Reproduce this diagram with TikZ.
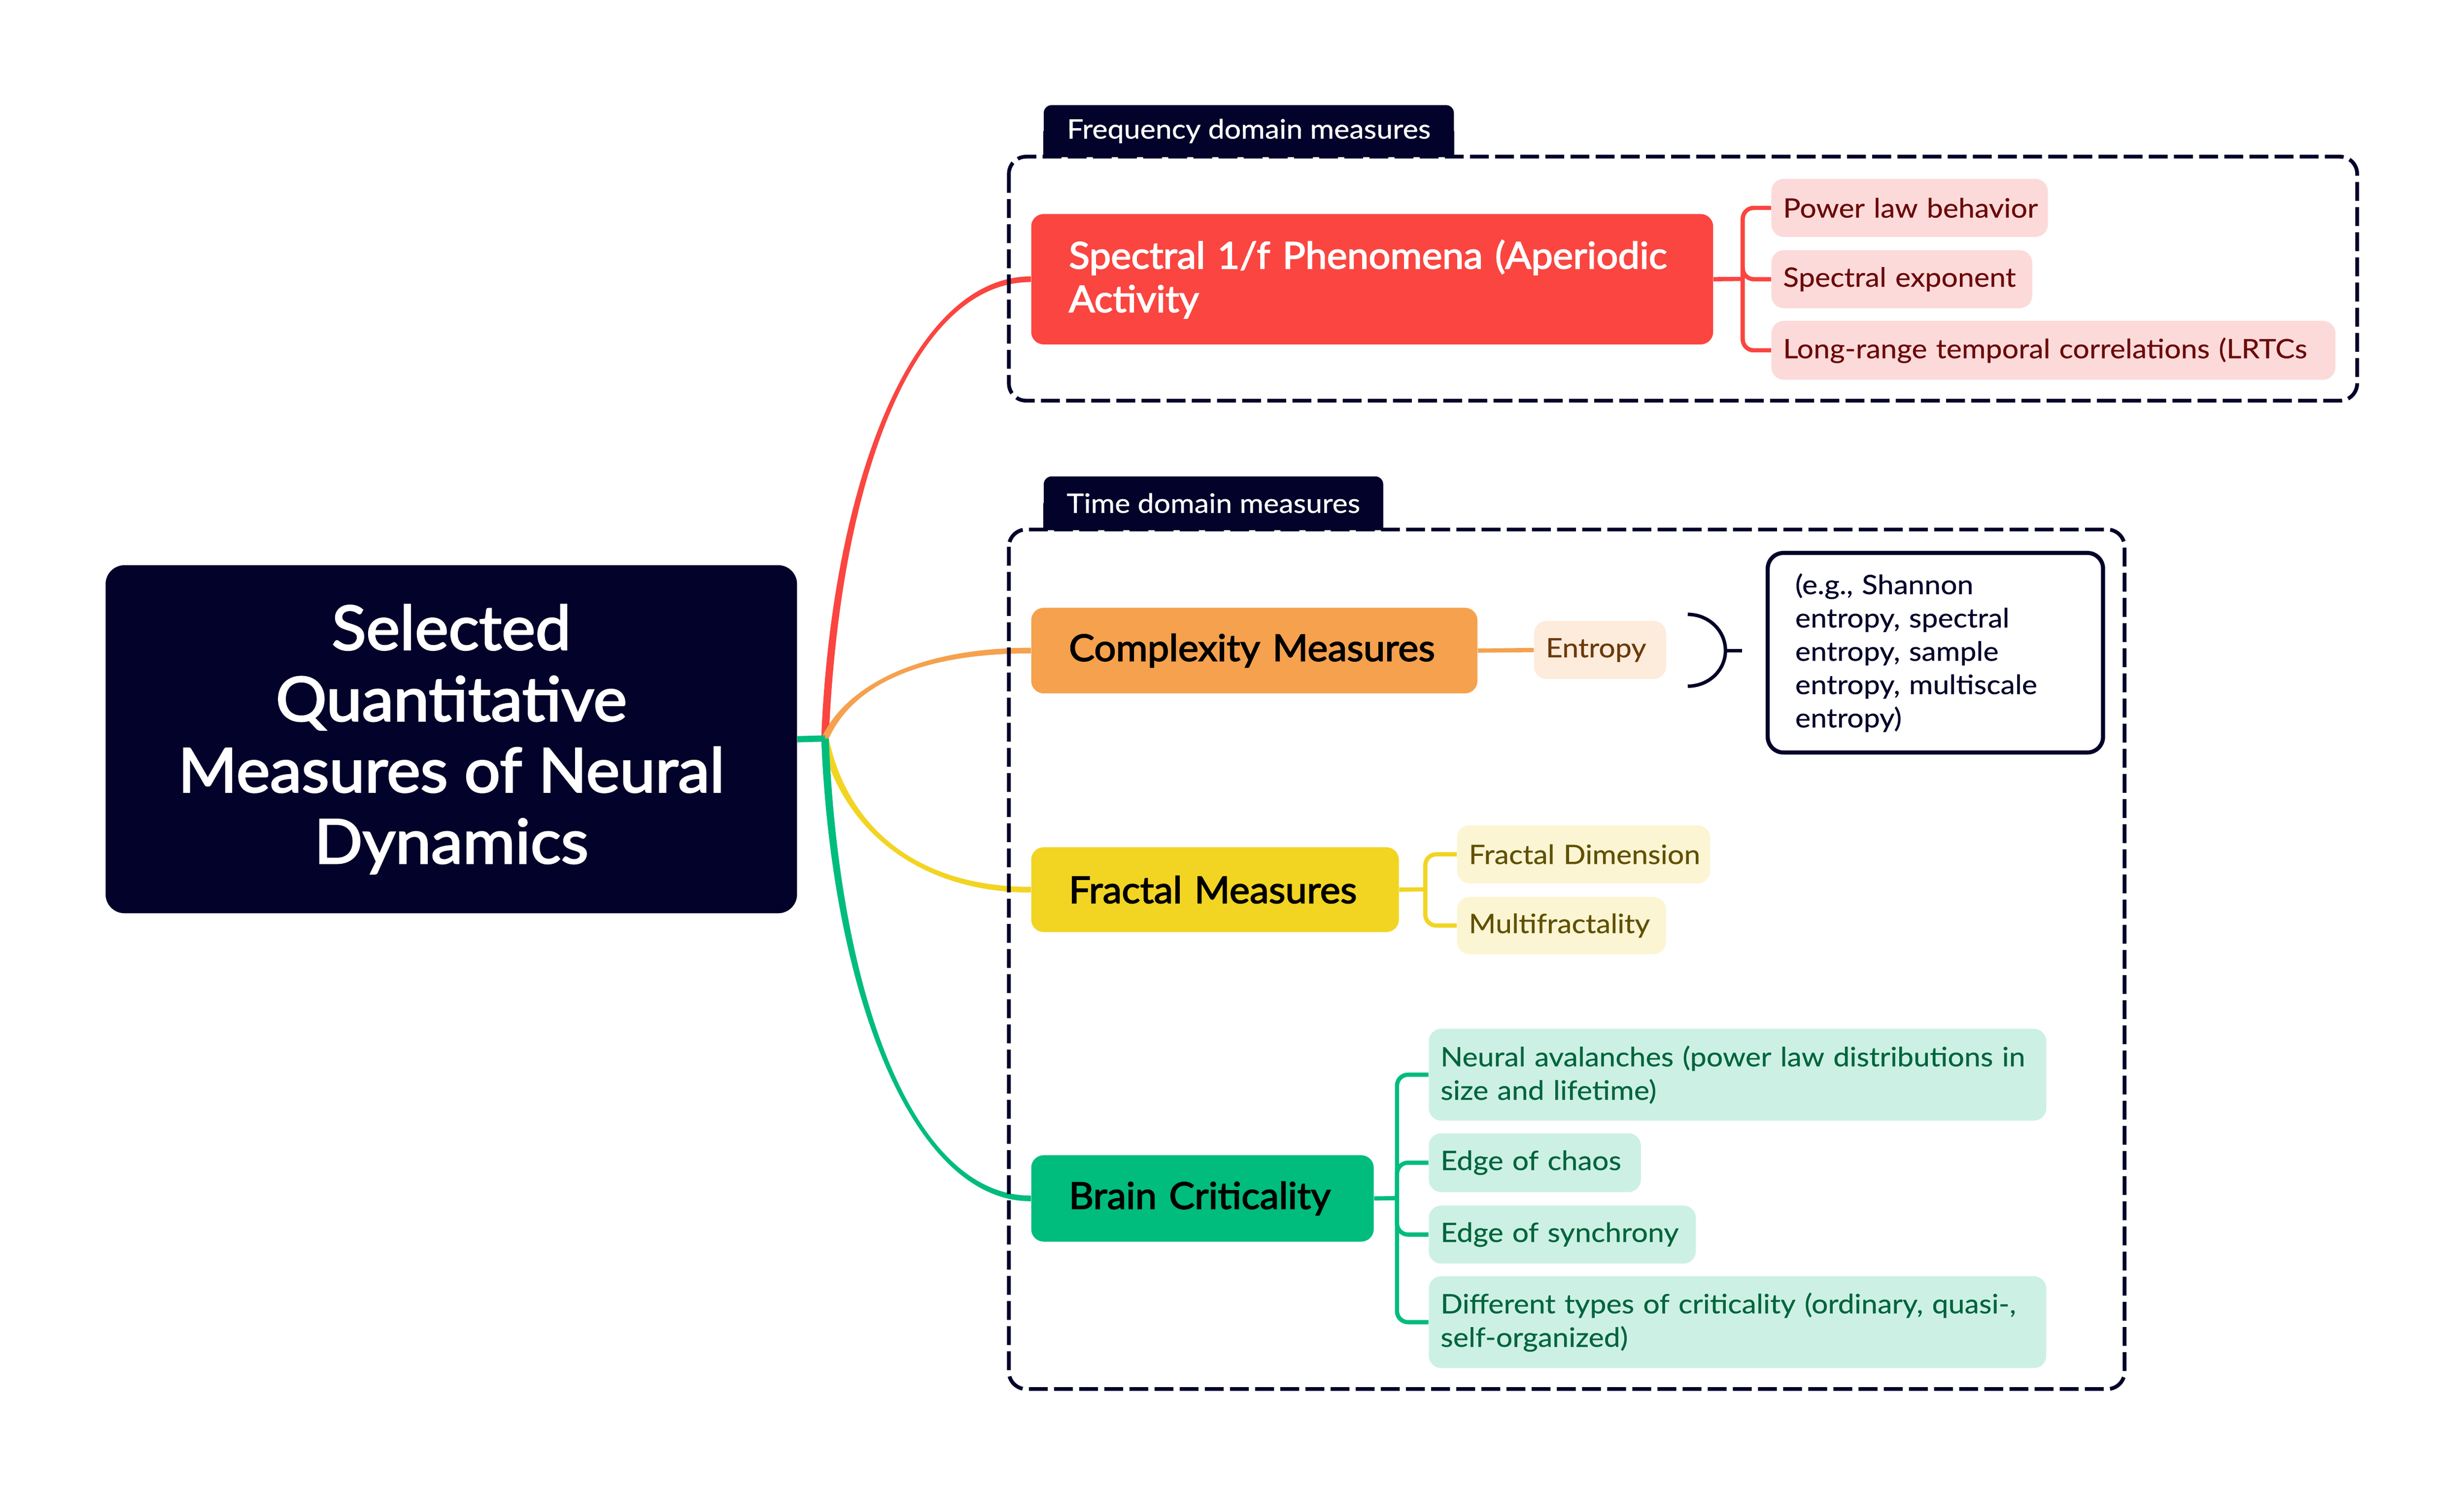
\documentclass[tikz,border=0pt]{standalone}
\usepackage{fontspec}
\setmainfont{Lato}
\newfontfamily\medfont[FakeBold=2.5,FakeStretch=1.04]{Lato}
\newfontfamily\leaffont[FakeBold=0.4,FakeStretch=1.09]{Lato}
\usetikzlibrary{calc}
\definecolor{navy}{HTML}{02022A}
\definecolor{cred}{HTML}{FA4540}
\definecolor{corange}{HTML}{F5A14E}
\definecolor{cyellow}{HTML}{F2D422}
\definecolor{cgreen}{HTML}{00BC7D}
\definecolor{pred}{HTML}{FDDADA}
\definecolor{porange}{HTML}{FDEBDC}
\definecolor{pyellow}{HTML}{FBF5D3}
\definecolor{pgreen}{HTML}{CCF1E4}
\definecolor{tred}{HTML}{6B0A0A}
\definecolor{torange}{HTML}{6B3A0A}
\definecolor{tyellow}{HTML}{605000}
\definecolor{tgreen}{HTML}{00643D}
\begin{document}
\begin{tikzpicture}[x=1pt,y=-1pt,
  mainbox/.style={rounded corners=8pt, inner xsep=24pt, inner ysep=0pt, anchor=north west, align=left,
    font=\medfont\fontsize{23.5}{27.7}\selectfont},
  leaf/.style={rounded corners=8pt, inner xsep=7.5pt, inner ysep=0pt, anchor=north west, align=left,
    font=\leaffont\fontsize{17}{21.3}\selectfont},
  tabbox/.style={fill=navy, text=white, rounded corners=5pt, inner xsep=13pt, inner ysep=0pt,
    anchor=north west, align=left, font=\leaffont\fontsize{17}{20}\selectfont},
  groupbox/.style={draw=navy, line width=2.4pt, dash pattern=on 12pt off 4pt, rounded corners=11pt},
  subline/.style={line width=2.7pt, rounded corners=7pt},
]
\fill[white] (0,0) rectangle (1568,952);
\useasboundingbox (0,0) rectangle (1568,952);

% root
\node[fill=navy, text=white, rounded corners=12pt, anchor=north west, minimum width=440pt,
  minimum height=221.5pt, inner sep=0pt, align=center,
  font=\medfont\fontsize{39}{45.3}\selectfont] (root) at (67,359.5)
  {Selected\\Quantitative\\Measures of Neural\\Dynamics};
\coordinate (J) at (525,470);

% main nodes
\node[mainbox, fill=cred, text=white, text width=386pt, minimum height=83pt] (spec) at (656,136)
  {\mbox{Spectral 1/f Phenomena (Aperiodic}\\\mbox{Activity}};
\node[mainbox, fill=corange, text=black, text width=236pt, minimum height=54.5pt] (comp) at (656,386.6)
  {\mbox{Complexity Measures}};
\node[mainbox, fill=cyellow, text=black, text width=186pt, minimum height=54pt] (frac) at (656,539)
  {\mbox{Fractal Measures}};
\node[mainbox, fill=cgreen, text=black, text width=170pt, minimum height=55pt] (brain) at (656,735)
  {\mbox{Brain Criticality}};

% main curves (tapered)
\fill[cred] ($(J)+(-2.4,0)$) .. controls +(6.5,-161) and +(-76,0) .. ($(spec.west)+(0,-1.8)$)
  -- ($(spec.west)+(0,1.8)$) .. controls +(-76,0) and +(6.5,-161) .. ($(J)+(2.4,0)$) -- cycle;
\fill[corange] ($(J)+(-2.4,0)$) .. controls +(14,-31) and +(-76,0) .. ($(comp.west)+(0,-1.8)$)
  -- ($(comp.west)+(0,1.8)$) .. controls +(-76,0) and +(14,-31) .. ($(J)+(2.4,0)$) -- cycle;
\fill[cyellow] ($(J)+(-2.4,0)$) .. controls +(11,53) and +(-76,0) .. ($(frac.west)+(0,1.8)$)
  -- ($(frac.west)+(0,-1.8)$) .. controls +(-76,0) and +(11,53) .. ($(J)+(2.4,0)$) -- cycle;
\fill[cgreen] ($(J)+(-2.4,0)$) .. controls +(6.5,161) and +(-76,0) .. ($(brain.west)+(0,1.8)$)
  -- ($(brain.west)+(0,-1.8)$) .. controls +(-76,0) and +(6.5,161) .. ($(J)+(2.4,0)$) -- cycle;
\draw[cgreen, line width=4pt] (root.east) -- (J);

% groups
\draw[groupbox] (642,99.7) rectangle (1500,255);
\draw[groupbox] (642,337) rectangle (1352,884);
\node[tabbox, minimum width=261pt, minimum height=33pt] (freqtab) at (664,66.7) {Frequency domain measures};
\node[tabbox, minimum width=216pt, minimum height=34pt] (timetab) at (664,303) {Time domain measures};
\fill[navy] (freqtab.west) rectangle (freqtab.south east);
\fill[navy] (timetab.west) rectangle (timetab.south east);
\node[tabbox, fill=none, minimum width=261pt, minimum height=33pt] at (664,66.7) {Frequency domain measures};
\node[tabbox, fill=none, minimum width=216pt, minimum height=34pt] at (664,303) {Time domain measures};

% leaves
\node[leaf, fill=pred, text=tred, text width=161pt, minimum height=37pt] (pw) at (1127,113.6) {\mbox{Power law behavior}};
\node[leaf, fill=pred, text=tred, text width=151pt, minimum height=37pt] (se) at (1127,159) {\mbox{Spectral exponent}};
\node[leaf, fill=pred, text=tred, text width=344pt, minimum height=37.5pt] (lrtc) at (1127,204) {\mbox{Long-range temporal correlations (LRTCs}};
\node[leaf, fill=porange, text=torange, text width=69pt, minimum height=37pt] (ent) at (976,395) {\mbox{Entropy}};
\node[leaf, fill=pyellow, text=tyellow, text width=146pt, minimum height=37pt] (fd) at (927,525) {\mbox{Fractal Dimension}};
\node[leaf, fill=pyellow, text=tyellow, text width=118pt, minimum height=36.5pt] (mf) at (927,570.6) {\mbox{Multifractality}};
\node[leaf, fill=pgreen, text=tgreen, text width=378pt, minimum height=58.5pt] (na) at (909,654.5)
  {\mbox{Neural avalanches (power law distributions in}\\\mbox{size and lifetime)}};
\node[leaf, fill=pgreen, text=tgreen, text width=120pt, minimum height=37.5pt] (ec) at (909,721) {\mbox{Edge of chaos}};
\node[leaf, fill=pgreen, text=tgreen, text width=155pt, minimum height=37pt] (es) at (909,767) {\mbox{Edge of synchrony}};
\node[leaf, fill=pgreen, text=tgreen, text width=378pt, minimum height=58.5pt] (dt) at (909,812)
  {\mbox{Different types of criticality (ordinary, quasi-,}\\\mbox{self-organized)}};

% note box
\node[draw=navy, line width=2.6pt, fill=white, rounded corners=10pt, anchor=north west, inner xsep=17.5pt,
  inner ysep=0pt, text width=178.4pt, minimum height=127pt, align=left, text=navy,
  font=\leaffont\fontsize{17}{21.2}\selectfont] (note) at (1123.6,350.6)
  {\mbox{(e.g., Shannon}\\\mbox{entropy, spectral}\\\mbox{entropy, sample}\\\mbox{entropy, multiscale}\\\mbox{entropy)}};

% sub connectors
\coordinate (sj) at (1109,177.5);
\draw[cred, line width=2.7pt] (spec.east) -- (sj);
\draw[cred, subline] (sj) |- (pw.west);
\draw[cred, subline] (sj) |- (se.west);
\draw[cred, subline] (sj) |- (lrtc.west);
\draw[corange, line width=2.7pt] (comp.east) -- (ent.west);
\coordinate (fj) at (907,566);
\draw[cyellow, line width=2.7pt] (frac.east) -- (fj);
\draw[cyellow, subline] (fj) |- (fd.west);
\draw[cyellow, subline] (fj) |- (mf.west);
\coordinate (bj) at (889,762.5);
\draw[cgreen, line width=2.7pt] (brain.east) -- (bj);
\draw[cgreen, subline] (bj) |- (na.west);
\draw[cgreen, subline] (bj) |- (ec.west);
\draw[cgreen, subline] (bj) |- (es.west);
\draw[cgreen, subline] (bj) |- (dt.west);

% summary bracket
\coordinate (brc) at (1098,414);
\coordinate (brend) at (1108.6,414);
\draw[navy, line width=2.2pt] (1074,391) .. controls (1087.2,391) and (1098,401.3) .. (brc)
  .. controls (1098,426.7) and (1087.2,436.7) .. (1074,436.7);
\draw[navy, line width=2.2pt] (brc) -- (brend);
\end{tikzpicture}
\end{document}
